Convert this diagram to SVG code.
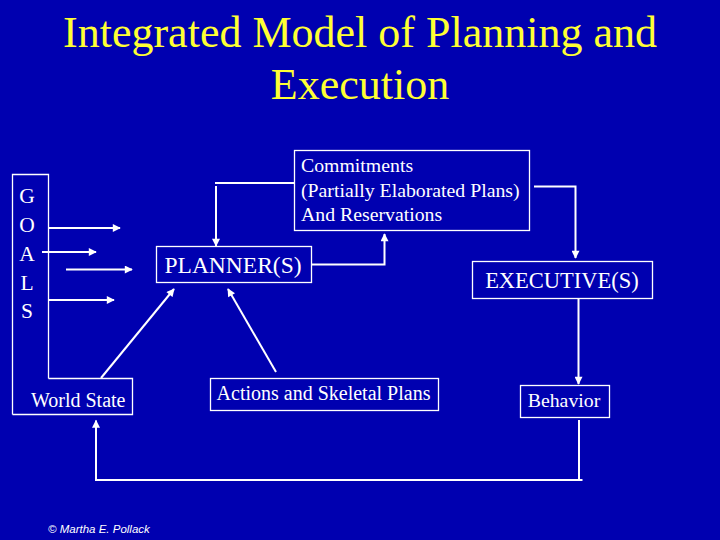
<svg xmlns="http://www.w3.org/2000/svg" width="720" height="540" viewBox="0 0 720 540">
<defs>
<style>
.title{font-family:"Liberation Serif","Times New Roman",serif;font-size:44px;fill:#FFFF33;text-anchor:middle}
.lbl{font-family:"Liberation Serif","Times New Roman",serif;fill:#FFFFFF}
.box{fill:none;stroke:#FFFFFF;stroke-width:1.3}
.con{fill:none;stroke:#FFFFFF;stroke-width:2}
.copy{font-family:"Liberation Sans",Arial,sans-serif;font-style:italic;font-size:11.5px;fill:#FFFFFF}
</style>
<marker id="ah" viewBox="0 0 10 10" refX="9" refY="5" markerWidth="4.5" markerHeight="4" orient="auto" markerUnits="strokeWidth">
<path d="M0,0 L10,5 L0,10 z" fill="#FFFFFF"/>
</marker>
</defs>
<rect x="0" y="0" width="720" height="540" fill="#0000B0"/>
<text class="title" x="360" y="47">Integrated Model of Planning and</text>
<text class="title" x="360" y="99">Execution</text>

<g id="goals">
<path class="box" d="M48.5,378.5 V174.5 H12.5 V414.5"/>
<text class="lbl" font-size="21.5" text-anchor="middle" x="27" y="203">G</text>
<text class="lbl" font-size="21.5" text-anchor="middle" x="27" y="232">O</text>
<text class="lbl" font-size="21.5" text-anchor="middle" x="27" y="261">A</text>
<text class="lbl" font-size="21.5" text-anchor="middle" x="27" y="290">L</text>
<text class="lbl" font-size="21.5" text-anchor="middle" x="27" y="318">S</text>
</g>
<g id="worldstate">
<path class="box" d="M48.5,378.5 H132.5 V414.5 H12.5"/>
<text class="lbl" font-size="20" x="31" y="407">World State</text>
</g>
<g id="commitments">
<rect class="box" x="294.5" y="150.5" width="235" height="80"/>
<text class="lbl" font-size="19.8" x="301" y="172">Commitments</text>
<text class="lbl" font-size="19.8" x="301" y="197">(Partially Elaborated Plans)</text>
<text class="lbl" font-size="19.8" x="301" y="221">And Reservations</text>
</g>
<g id="planner">
<rect class="box" x="156.5" y="246.5" width="155" height="36"/>
<text class="lbl" font-size="23.5" text-anchor="middle" x="233" y="273">PLANNER(S)</text>
</g>
<g id="executive">
<rect class="box" x="472.5" y="261.5" width="180" height="37"/>
<text class="lbl" font-size="22.5" text-anchor="middle" x="562" y="288">EXECUTIVE(S)</text>
</g>
<g id="actions">
<rect class="box" x="210.5" y="378.5" width="228" height="32"/>
<text class="lbl" font-size="20" text-anchor="middle" x="323.5" y="400">Actions and Skeletal Plans</text>
</g>
<g id="behavior">
<rect class="box" x="520.5" y="385.5" width="89" height="32"/>
<text class="lbl" font-size="19.8" text-anchor="middle" x="564" y="407">Behavior</text>
</g>

<g id="connectors">
<line class="con" x1="48" y1="228" x2="120" y2="228" marker-end="url(#ah)"/>
<line class="con" x1="42" y1="252" x2="96" y2="252" marker-end="url(#ah)"/>
<line class="con" x1="66" y1="269.5" x2="132" y2="269.5" marker-end="url(#ah)"/>
<line class="con" x1="48" y1="300" x2="114" y2="300" marker-end="url(#ah)"/>
<line class="con" x1="294" y1="183" x2="215" y2="183"/>
<line class="con" x1="216" y1="186" x2="216" y2="246" marker-end="url(#ah)"/>
<polyline class="con" points="312,264.5 384.5,264.5 384.5,234" marker-end="url(#ah)"/>
<polyline class="con" points="534,186.5 575.5,186.5 575.5,258" marker-end="url(#ah)"/>
<line class="con" x1="578.5" y1="299" x2="578.5" y2="384" marker-end="url(#ah)"/>
<polyline class="con" points="579,420 579,480 582.5,480"/>
<polyline class="con" points="579,480 96,480 96,420.5" marker-end="url(#ah)"/>
<line class="con" x1="101" y1="378" x2="174" y2="289" marker-end="url(#ah)"/>
<line class="con" x1="276" y1="372" x2="228" y2="289" marker-end="url(#ah)"/>
</g>
<text class="copy" x="48" y="533">© Martha E. Pollack</text>
</svg>
